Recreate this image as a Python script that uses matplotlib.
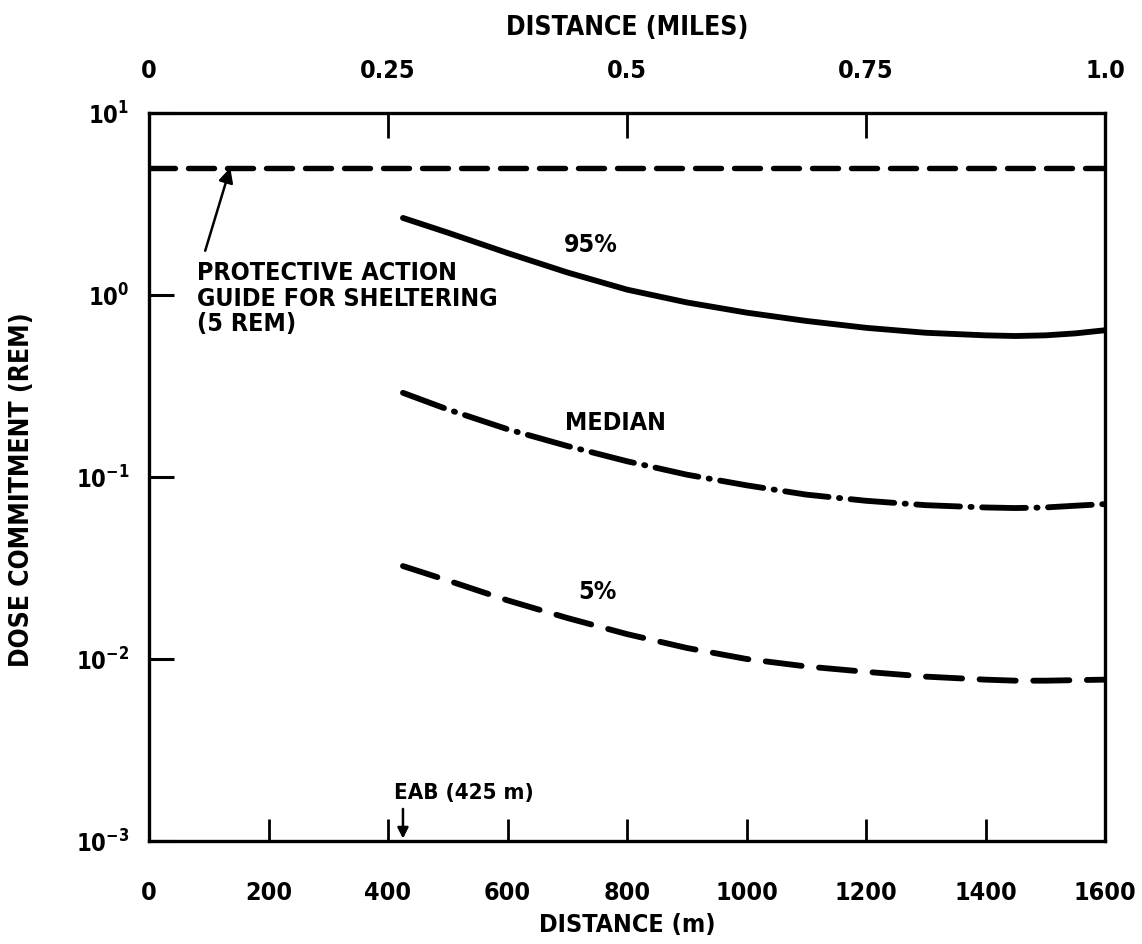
import matplotlib
matplotlib.use('Agg')
import matplotlib.pyplot as plt
from matplotlib.ticker import NullLocator, FixedLocator, FixedFormatter

plt.rcParams['font.family'] = ['DejaVu Sans']
plt.rcParams['font.weight'] = 'bold'
plt.rcParams['font.stretch'] = 'condensed'
plt.rcParams['mathtext.fontset'] = 'dejavusans'
plt.rcParams['mathtext.default'] = 'bf'

# ---- data (distance in m, dose commitment in rem) ----
dist_95 = [425, 500, 600, 700, 800, 900, 1000, 1100, 1200, 1300, 1400, 1450, 1500, 1550, 1600]
dose_95 = [2.65, 2.2, 1.70, 1.33, 1.07, 0.91, 0.80, 0.72, 0.66, 0.62, 0.60, 0.595, 0.60, 0.615, 0.64]

dist_med = [425, 500, 600, 700, 800, 900, 1000, 1100, 1200, 1300, 1400, 1450, 1500, 1550, 1600]
dose_med = [0.29, 0.235, 0.183, 0.148, 0.122, 0.103, 0.090, 0.080, 0.074, 0.070, 0.068, 0.0675, 0.068, 0.0695, 0.071]

dist_5 = [425, 500, 600, 700, 800, 900, 1000, 1100, 1200, 1300, 1400, 1450, 1500, 1550, 1600]
dose_5 = [0.0324, 0.027, 0.021, 0.0168, 0.0137, 0.0115, 0.0100, 0.0091, 0.0085, 0.0080, 0.0077, 0.0076, 0.0076, 0.00765, 0.0077]

pag_dist = [0, 1600]
pag_dose = [5, 5]

x_ticks_m = [0, 200, 400, 600, 800, 1000, 1200, 1400, 1600]
y_ticks = [1e-3, 1e-2, 1e-1, 1e0, 1e1]
mile_values = [0, 0.25, 0.5, 0.75, 1.0]
mile_labels = ['0', '0.25', '0.5', '0.75', '1.0']
eab_m = 425

TXT = dict(fontsize=18, fontweight='bold', fontstretch='condensed')

fig = plt.figure(figsize=(11.42, 9.45), dpi=100)
ax = fig.add_axes([0.1305, 0.1090, 0.8371, 0.7704])

ax.set_xlim(0, 1600)
ax.set_yscale('log')
ax.set_ylim(1e-3, 1e1)

lw_curve = 4.2
ax.plot(pag_dist, pag_dose, color='black', lw=3.9, linestyle=(0, (4.8, 2.4)),
        dash_capstyle='round')
ax.plot(dist_95, dose_95, color='black', lw=lw_curve, solid_capstyle='round',
        solid_joinstyle='round')
ax.plot(dist_med, dose_med, color='black', lw=lw_curve,
        linestyle=(0, (7.5, 1.8, 0.2, 1.8)), dash_capstyle='round')
ax.plot(dist_5, dose_5, color='black', lw=lw_curve,
        linestyle=(0, (6.2, 3.0)), dash_capstyle='round')

for s in ax.spines.values():
    s.set_linewidth(2.4)

ax.xaxis.set_major_locator(FixedLocator(x_ticks_m))
ax.xaxis.set_minor_locator(NullLocator())
ax.set_xticklabels([str(v) for v in x_ticks_m])
ax.yaxis.set_major_locator(FixedLocator(y_ticks))
ax.yaxis.set_minor_locator(NullLocator())

ax.tick_params(axis='x', which='major', direction='in', length=16, width=2.0,
               labelsize=18, pad=28, top=False, bottom=True)
ax.tick_params(axis='y', which='major', direction='in', length=18, width=2.2,
               labelsize=17, pad=14, left=True, right=False)

ax2 = ax.twiny()
ax2.set_xlim(0, 1600)
ax2.xaxis.set_major_locator(FixedLocator([m * 1600 for m in mile_values]))
ax2.xaxis.set_major_formatter(FixedFormatter(mile_labels))
ax2.xaxis.set_minor_locator(NullLocator())
ax2.tick_params(axis='x', which='major', direction='in', length=18, width=2.0,
                labelsize=18, pad=22)
for s in ax2.spines.values():
    s.set_visible(False)

# annotations
ax.annotate('', xy=(136, 5.0), xytext=(94, 1.75),
            arrowprops=dict(arrowstyle='-|>', color='black', lw=1.8,
                            mutation_scale=22, shrinkA=0, shrinkB=0))
ax.text(81, 1.55, 'PROTECTIVE ACTION\nGUIDE FOR SHELTERING\n(5 REM)',
        ha='left', va='top', linespacing=1.08, **TXT)
ax.text(740, 1.9, '95%', ha='center', va='center', **TXT)
ax.text(780, 0.20, 'MEDIAN', ha='center', va='center', **TXT)
ax.text(750, 0.0237, '5%', ha='center', va='center', **TXT)
ax.text(410, 0.00185, 'EAB (425 m)', ha='left', va='center',
        fontsize=16, fontweight='bold', fontstretch='condensed')
ax.annotate('', xy=(eab_m, 0.00103), xytext=(eab_m, 0.00150),
            arrowprops=dict(arrowstyle='-|>', color='black', lw=1.8,
                            mutation_scale=16, shrinkA=0, shrinkB=0))

fig.text(627 / 1142, 1 - 925 / 945, 'DISTANCE (m)', ha='center', va='center', **TXT)
fig.text(627 / 1142, 1 - 28 / 945, 'DISTANCE (MILES)', ha='center', va='center',
         fontsize=19, fontweight='bold', fontstretch='condensed')
fig.text(22 / 1142, 1 - 490 / 945, 'DOSE COMMITMENT (REM)', ha='center', va='center',
         rotation=90, fontsize=19, fontweight='bold', fontstretch='condensed')

fig.savefig('out.png', dpi=100, facecolor='white')
